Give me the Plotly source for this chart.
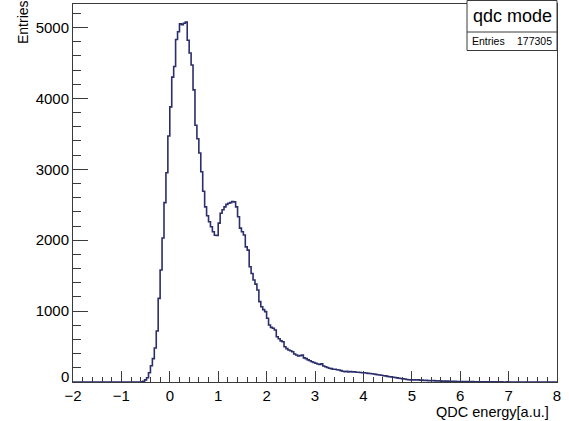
import numpy as np
import plotly.graph_objects as go

# ---------------- data ----------------
x_min, x_max, n_bins = -2.0, 8.0, 250
entries = 177305
hist_title = "qdc mode"
x_title = "QDC energy[a.u.]"
y_title = "Entries"

counts_empty = [0, 0, 0, 0, 0, 0, 0, 0, 0, 0,
                0, 0, 0, 0, 0, 0, 0, 0, 0, 0,
                0, 0, 0, 0, 0, 0, 0, 0, 0, 0,
                0, 0, 0, 0, 0]                                   # -2.00 .. -0.64
counts_rise = [3, 10, 30, 60, 130, 230, 330, 480, 720, 1180,
               1580, 2030, 2530, 2950, 3470, 3880, 4300, 4450, 4830, 4940,
               5050, 5040, 5060, 5077]                           # -0.60 .. 0.32
counts_fall = [4820, 4640, 4470, 4120, 3620, 3430, 3230, 2965, 2690, 2470,
               2345, 2260, 2190, 2120, 2070, 2065]               # 0.36 .. 0.96
counts_peak2 = [2240, 2380, 2430, 2470, 2505, 2520, 2530, 2545, 2540, 2470,
                2330, 2170]                                      # 1.00 .. 1.44
counts_drop = [2120, 2073, 1905, 1860, 1626, 1530, 1438, 1380, 1298, 1133,
               1062, 1020, 992, 898]                             # 1.48 .. 2.00
counts_tail2 = [804, 770, 757, 733, 639, 610, 580, 568, 498, 470,
                451, 441, 427, 395, 381, 367, 372, 381, 340, 330,
                312, 300, 286, 275, 265]                         # 2.04 .. 3.00
counts_tail3 = [254, 248, 256, 225, 216, 205, 193, 188, 180, 179,
                172, 169, 160, 152, 145, 150, 142, 148, 140, 145,
                138, 137, 135, 131, 130]                         # 3.04 .. 4.00
counts_tail4 = [126, 122, 120, 116, 113, 108, 102, 99, 95, 89,
                86, 80, 75, 72, 66, 63, 58, 52, 50, 44,
                42, 36, 32, 30, 30]                              # 4.04 .. 5.00
counts_tail5 = [30, 28, 30, 25, 26, 22, 24, 20, 21, 18,
                19, 16, 15, 16, 13, 14, 12, 12, 10, 11,
                9, 9, 8, 8]                                      # 5.04 .. 5.96
counts_tail6 = [7, 6, 6, 5, 5, 4, 5, 3, 4, 3,
                2, 3, 2, 2, 3, 1, 2, 2, 1, 2,
                1, 2, 1, 1, 2, 1, 1, 1, 0, 1,
                1, 0, 1, 1, 0, 1, 0, 1, 0, 0,
                1, 0, 0, 1, 0, 0, 0, 1, 0, 0]                    # 6.00 .. 7.96

counts = (counts_empty + counts_rise + counts_fall + counts_peak2 + counts_drop
          + counts_tail2 + counts_tail3 + counts_tail4 + counts_tail5 + counts_tail6)

x_ticks = [-2, -1, 0, 1, 2, 3, 4, 5, 6, 7, 8]
y_ticks = [0, 1000, 2000, 3000, 4000, 5000]
y_tick_text = ["", "1000", "2000", "3000", "4000", "5000"]   # "0" drawn separately, raised as in ROOT
y_zero_label = "0"

# ---------------- figure ----------------
edges = np.linspace(x_min, x_max, n_bins + 1)
xs = list(edges)
ys = list(counts) + [counts[-1]]

W, H = 569, 421
L, R, T, B = 73, 557, 4, 382


def px(x):
    return (x - L) / (R - L)


def py(y):
    return (B - y) / (B - T)


FONT = "Liberation Sans, Arial, Helvetica, sans-serif"
LINE = "#2a2e6c"
FRAME = "#3a3a3a"

fig = go.Figure()
fig.add_trace(go.Scatter(x=xs, y=ys, mode="lines", line=dict(color=LINE, width=1.6, shape="hv"),
                         hoverinfo="skip", showlegend=False, cliponaxis=True))

ymax = max(counts) * 1.05

fig.update_layout(
    width=W, height=H,
    margin=dict(l=L, r=W - R, t=T, b=H - B, pad=0, autoexpand=False),
    paper_bgcolor="white", plot_bgcolor="white",
    font=dict(family=FONT, size=15, color="black"),
    showlegend=False,
)
fig.update_xaxes(
    range=[x_min, x_max], tickvals=x_ticks, ticks="inside", ticklen=11, tickwidth=1,
    tickcolor=FRAME, showgrid=False, zeroline=False, showline=True, linecolor=FRAME,
    linewidth=1, mirror=True, tickfont=dict(size=15, family=FONT), automargin=False,
    minor=dict(dtick=0.2, ticks="inside", ticklen=5.5, tickcolor=FRAME, showgrid=False),
)
fig.update_yaxes(
    range=[0, ymax], tickvals=y_ticks, ticktext=y_tick_text, ticks="inside", ticklen=15,
    tickwidth=1, tickcolor=FRAME, showgrid=False, zeroline=False, showline=True,
    linecolor=FRAME, linewidth=1, mirror=True, tickfont=dict(size=15, family=FONT),
    automargin=False,
    minor=dict(dtick=200, ticks="inside", ticklen=7.5, tickcolor=FRAME, showgrid=False),
)

annotations = [
    dict(text=x_title, x=px(551), y=py(412), xref="paper", yref="paper",
         xanchor="right", yanchor="middle", showarrow=False, font=dict(size=14.5, family=FONT)),
    dict(text=y_title, x=px(23), y=py(-2), xref="paper", yref="paper", textangle=-90,
         xanchor="center", yanchor="top", showarrow=False, font=dict(size=14, family=FONT)),
    dict(text=y_zero_label, x=px(71), y=py(376), xref="paper", yref="paper",
         xanchor="right", yanchor="middle", showarrow=False, font=dict(size=15, family=FONT)),
    dict(text=hist_title, x=px(512), y=py(16), xref="paper", yref="paper",
         xanchor="center", yanchor="middle", showarrow=False, font=dict(size=18, family=FONT)),
    dict(text="Entries", x=px(470), y=py(41), xref="paper", yref="paper",
         xanchor="left", yanchor="middle", showarrow=False, font=dict(size=10.5, family=FONT)),
    dict(text=str(entries), x=px(553.5), y=py(41), xref="paper", yref="paper",
         xanchor="right", yanchor="middle", showarrow=False, font=dict(size=10.5, family=FONT)),
]
shapes = [
    dict(type="rect", xref="paper", yref="paper", x0=px(467), x1=px(557), y0=py(50.5), y1=py(0.5),
         fillcolor="white", line=dict(color=FRAME, width=1), layer="above"),
    dict(type="line", xref="paper", yref="paper", x0=px(467), x1=px(557), y0=py(32), y1=py(32),
         line=dict(color=FRAME, width=1), layer="above"),
]
fig.update_layout(annotations=annotations, shapes=shapes)

fig.write_html("out.html",
               config={"displayModeBar": False, "staticPlot": True},
               post_script="document.body.style.margin='0';document.body.style.padding='0';")
